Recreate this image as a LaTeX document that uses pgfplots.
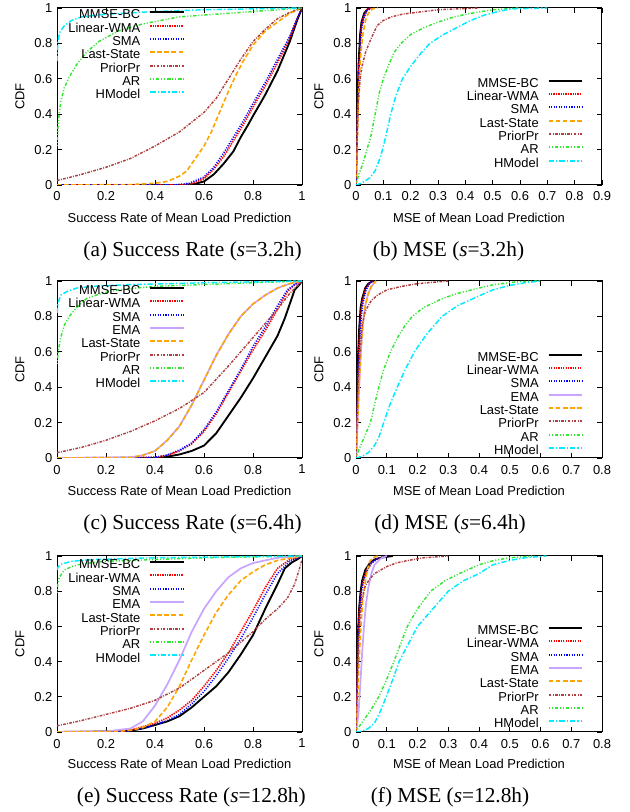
\documentclass[border=0pt]{standalone}
\usepackage{fontspec}
\setmainfont{Liberation Sans}
\newfontfamily\capfont{Liberation Serif}
\usepackage{pgfplots}
\pgfplotsset{compat=1.18}
\definecolor{cLWMA}{RGB}{255,0,0}
\definecolor{cSMA}{RGB}{0,0,255}
\definecolor{cEMA}{RGB}{200,165,255}
\definecolor{cLast}{RGB}{255,165,0}
\definecolor{cPrior}{RGB}{176,64,64}
\definecolor{cAR}{RGB}{50,230,50}
\definecolor{cHM}{RGB}{0,235,255}
\tikzset{
  sMMSE/.style={black, line width=1.4pt, solid},
  sLWMA/.style={cLWMA, line width=1.2pt, dash pattern=on 1pt off 0.8pt},
  sSMA/.style={cSMA, line width=1.2pt, dash pattern=on 0.8pt off 1.1pt},
  sEMA/.style={cEMA, line width=1.3pt, solid},
  sLast/.style={cLast, line width=1.2pt, dash pattern=on 3.5pt off 1.8pt},
  sPrior/.style={cPrior, line width=1.1pt, dash pattern=on 2pt off 1pt on 0.7pt off 1pt},
  sAR/.style={cAR, line width=1.1pt, dash pattern=on 0.8pt off 1.4pt on 0.8pt off 1.4pt on 2.5pt off 1.4pt},
  sHM/.style={cHM, line width=1.1pt, dash pattern=on 4pt off 1.5pt on 1pt off 1.5pt},
}
\pgfplotsset{
  /pgf/number format/assume math mode=true,
  cdfaxis/.style={
    scale only axis, height=132.75pt,
    ymin=0, ymax=1, ytick={0,0.2,0.4,0.6,0.8,1},
    tick align=inside, major tick length=4pt,
    axis line style={line width=0.75pt},
    every tick/.style={black, line width=0.6pt},
    ylabel={CDF},
    ylabel style={at={(axis description cs:-0.151,0.5)}, anchor=center},
    xlabel style={at={(axis description cs:0.5,-0.183)}, anchor=center},
    xticklabel style={yshift=-1.8pt},
    legend plot pos=right,
    legend cell align=right,
    legend image code/.code={\draw[##1, line width=1.5pt] (0pt,2.7pt) -- (25pt,2.7pt);},
    legend style={draw=none, fill=none, inner sep=0pt, column sep=6.75pt, row sep=0pt,
      nodes={inner sep=0pt, text height=7.2pt, text depth=2.8pt}},
  },
  sraxis/.style={cdfaxis, width=183.75pt, xmin=0, xmax=1, xtick={0,0.2,0.4,0.6,0.8,1},
    xlabel={Success Rate of Mean Load Prediction}},
  mseaxis/.style={cdfaxis, width=184.5pt, xmin=0, xmax=#1,
    xlabel={MSE of Mean Load Prediction}},
}
\begin{document}
\fontsize{9.7}{11}\selectfont
\begin{tikzpicture}
\path[use as bounding box] (0,0) rectangle (472.5pt,609pt);
% (a)
\begin{axis}[sraxis, at={(42.75pt,470.25pt)}, anchor=south west,
  legend style={at={(rel axis cs:0.522,0.995)}, anchor=north east}]
\addplot[sMMSE] coordinates {(0,0)(0.52,0)(0.56,0.005)(0.6,0.02)(0.64,0.06)(0.68,0.12)(0.72,0.19)(0.75,0.27)(0.78,0.34)(0.8,0.39)(0.85,0.51)(0.9,0.645)(0.95,0.81)(0.98,0.93)(1,1)};
\addlegendentry{MMSE-BC}
\addplot[sLWMA] coordinates {(0,0)(0.5,0)(0.55,0.008)(0.6,0.035)(0.64,0.09)(0.68,0.16)(0.72,0.25)(0.76,0.34)(0.8,0.44)(0.85,0.56)(0.9,0.69)(0.95,0.83)(0.98,0.94)(1,1)};
\addlegendentry{Linear-WMA}
\addplot[sSMA] coordinates {(0,0)(0.48,0)(0.54,0.01)(0.6,0.045)(0.64,0.1)(0.68,0.18)(0.72,0.27)(0.76,0.36)(0.8,0.46)(0.85,0.58)(0.9,0.71)(0.95,0.84)(0.98,0.94)(1,1)};
\addlegendentry{SMA}
\addplot[sLast] coordinates {(0,0)(0.3,0.002)(0.4,0.01)(0.45,0.02)(0.5,0.05)(0.53,0.08)(0.56,0.14)(0.6,0.22)(0.63,0.3)(0.66,0.4)(0.7,0.53)(0.73,0.62)(0.76,0.7)(0.8,0.79)(0.85,0.87)(0.9,0.92)(0.95,0.97)(1,1)};
\addlegendentry{Last-State}
\addplot[sPrior] coordinates {(0,0.025)(0.1,0.06)(0.2,0.1)(0.3,0.15)(0.4,0.22)(0.5,0.3)(0.6,0.41)(0.65,0.49)(0.7,0.6)(0.75,0.71)(0.8,0.81)(0.85,0.88)(0.9,0.94)(0.95,0.975)(1,1)};
\addlegendentry{PriorPr}
\addplot[sAR] coordinates {(0,0.22)(0.005,0.35)(0.015,0.47)(0.03,0.55)(0.05,0.61)(0.08,0.68)(0.12,0.75)(0.17,0.81)(0.25,0.87)(0.35,0.91)(0.5,0.95)(0.6,0.96)(0.75,0.975)(0.9,0.99)(1,1)};
\addlegendentry{AR}
\addplot[sHM] coordinates {(0,0.7)(0.003,0.8)(0.01,0.86)(0.03,0.9)(0.06,0.93)(0.1,0.95)(0.2,0.965)(0.4,0.98)(0.6,0.99)(1,1)};
\addlegendentry{HModel}
\end{axis}
% (b)
\begin{axis}[mseaxis=0.9, xtick={0,0.1,0.2,0.3,0.4,0.5,0.6,0.7,0.8,0.9}, at={(267pt,470.25pt)}, anchor=south west,
  legend style={at={(rel axis cs:0.924,0.608)}, anchor=north east}]
\addplot[sMMSE] coordinates {(0,0)(0.002,0.2)(0.005,0.45)(0.01,0.7)(0.015,0.85)(0.02,0.92)(0.03,0.97)(0.04,0.99)(0.05,1)};
\addlegendentry{MMSE-BC}
\addplot[sLWMA] coordinates {(0,0)(0.002,0.15)(0.005,0.4)(0.01,0.65)(0.015,0.8)(0.02,0.9)(0.03,0.96)(0.04,0.99)(0.055,1)};
\addlegendentry{Linear-WMA}
\addplot[sSMA] coordinates {(0,0)(0.002,0.15)(0.006,0.42)(0.01,0.62)(0.015,0.78)(0.02,0.88)(0.03,0.95)(0.04,0.985)(0.055,1)};
\addlegendentry{SMA}
\addplot[sLast] coordinates {(0,0)(0.003,0.15)(0.007,0.38)(0.012,0.6)(0.018,0.75)(0.025,0.85)(0.035,0.93)(0.045,0.97)(0.06,0.995)(0.08,1)};
\addlegendentry{Last-State}
\addplot[sPrior] coordinates {(0,0)(0.003,0.2)(0.008,0.45)(0.015,0.6)(0.022,0.67)(0.035,0.75)(0.053,0.82)(0.077,0.9)(0.1,0.93)(0.13,0.95)(0.17,0.965)(0.22,0.975)(0.3,0.99)(0.45,1)};
\addlegendentry{PriorPr}
\addplot[sAR] coordinates {(0,0)(0.01,0.06)(0.025,0.12)(0.04,0.2)(0.055,0.28)(0.07,0.4)(0.085,0.52)(0.1,0.6)(0.12,0.68)(0.14,0.75)(0.165,0.8)(0.2,0.85)(0.25,0.89)(0.3,0.92)(0.36,0.95)(0.42,0.97)(0.5,0.99)(0.6,1)};
\addlegendentry{AR}
\addplot[sHM] coordinates {(0,0)(0.02,0.01)(0.05,0.04)(0.07,0.08)(0.09,0.16)(0.11,0.28)(0.127,0.4)(0.145,0.5)(0.17,0.6)(0.2,0.67)(0.235,0.74)(0.27,0.8)(0.32,0.85)(0.37,0.89)(0.42,0.93)(0.47,0.96)(0.52,0.98)(0.57,0.995)(0.7,1)};
\addlegendentry{HModel}
\end{axis}
% (c)
\begin{axis}[sraxis, at={(42.75pt,265.5pt)}, anchor=south west,
  legend style={at={(rel axis cs:0.522,0.98)}, anchor=north east}]
\addplot[sMMSE] coordinates {(0,0)(0.42,0)(0.46,0.01)(0.5,0.02)(0.55,0.04)(0.6,0.07)(0.65,0.14)(0.7,0.24)(0.75,0.34)(0.8,0.45)(0.85,0.57)(0.9,0.69)(0.93,0.79)(0.95,0.87)(0.97,0.95)(0.99,0.98)(1,1)};
\addlegendentry{MMSE-BC}
\addplot[sLWMA] coordinates {(0,0)(0.4,0.003)(0.45,0.015)(0.5,0.04)(0.55,0.08)(0.6,0.15)(0.65,0.25)(0.7,0.37)(0.75,0.49)(0.8,0.61)(0.85,0.72)(0.9,0.84)(0.94,0.94)(0.97,0.98)(1,1)};
\addlegendentry{Linear-WMA}
\addplot[sSMA] coordinates {(0,0)(0.4,0.004)(0.45,0.017)(0.5,0.045)(0.55,0.085)(0.6,0.16)(0.65,0.26)(0.7,0.38)(0.75,0.5)(0.8,0.63)(0.85,0.74)(0.9,0.86)(0.94,0.95)(0.97,0.98)(1,1)};
\addlegendentry{SMA}
\addplot[sEMA] coordinates {(0,0)(0.3,0.003)(0.35,0.015)(0.4,0.04)(0.45,0.1)(0.5,0.18)(0.55,0.3)(0.6,0.44)(0.65,0.58)(0.7,0.7)(0.75,0.8)(0.8,0.87)(0.85,0.92)(0.9,0.96)(0.95,0.985)(1,1)};
\addlegendentry{EMA}
\addplot[sLast] coordinates {(0,0)(0.3,0.003)(0.35,0.015)(0.4,0.04)(0.45,0.1)(0.5,0.18)(0.55,0.3)(0.6,0.44)(0.65,0.58)(0.7,0.7)(0.75,0.8)(0.8,0.87)(0.85,0.92)(0.9,0.96)(0.95,0.985)(1,1)};
\addlegendentry{Last-State}
\addplot[sPrior] coordinates {(0,0.03)(0.1,0.06)(0.2,0.1)(0.3,0.15)(0.4,0.21)(0.5,0.28)(0.6,0.37)(0.7,0.52)(0.8,0.68)(0.9,0.84)(0.95,0.93)(1,1)};
\addlegendentry{PriorPr}
\addplot[sAR] coordinates {(0,0.53)(0.005,0.6)(0.015,0.68)(0.03,0.75)(0.05,0.8)(0.08,0.85)(0.12,0.9)(0.18,0.93)(0.25,0.95)(0.4,0.97)(0.6,0.98)(0.8,0.99)(1,1)};
\addlegendentry{AR}
\addplot[sHM] coordinates {(0,0.82)(0.005,0.88)(0.015,0.92)(0.04,0.94)(0.08,0.96)(0.15,0.97)(0.3,0.98)(0.6,0.99)(1,1)};
\addlegendentry{HModel}
\end{axis}
% (d)
\begin{axis}[mseaxis=0.8, xtick={0,0.1,0.2,0.3,0.4,0.5,0.6,0.7,0.8}, at={(267pt,265.5pt)}, anchor=south west,
  legend style={at={(rel axis cs:0.924,0.603)}, anchor=north east}]
\addplot[sMMSE] coordinates {(0,0)(0.002,0.25)(0.005,0.5)(0.01,0.72)(0.015,0.85)(0.02,0.9)(0.03,0.96)(0.04,0.985)(0.055,1)};
\addlegendentry{MMSE-BC}
\addplot[sLWMA] coordinates {(0,0)(0.003,0.2)(0.006,0.45)(0.01,0.65)(0.015,0.8)(0.02,0.88)(0.03,0.95)(0.045,0.99)(0.06,1)};
\addlegendentry{Linear-WMA}
\addplot[sSMA] coordinates {(0,0)(0.003,0.2)(0.007,0.45)(0.012,0.65)(0.017,0.8)(0.023,0.88)(0.033,0.95)(0.045,0.99)(0.06,1)};
\addlegendentry{SMA}
\addplot[sEMA] coordinates {(0,0)(0.004,0.15)(0.01,0.4)(0.016,0.6)(0.022,0.75)(0.03,0.86)(0.04,0.93)(0.05,0.97)(0.065,1)};
\addlegendentry{EMA}
\addplot[sLast] coordinates {(0,0)(0.004,0.15)(0.01,0.4)(0.016,0.6)(0.022,0.75)(0.03,0.86)(0.04,0.93)(0.05,0.97)(0.065,1)};
\addlegendentry{Last-State}
\addplot[sPrior] coordinates {(0,0)(0.003,0.2)(0.008,0.45)(0.013,0.6)(0.02,0.75)(0.03,0.83)(0.05,0.89)(0.07,0.92)(0.1,0.95)(0.15,0.97)(0.2,0.985)(0.3,1)};
\addlegendentry{PriorPr}
\addplot[sAR] coordinates {(0,0)(0.01,0.05)(0.025,0.11)(0.047,0.2)(0.06,0.3)(0.074,0.4)(0.09,0.5)(0.112,0.6)(0.135,0.68)(0.16,0.75)(0.183,0.8)(0.22,0.85)(0.28,0.9)(0.33,0.93)(0.4,0.96)(0.45,0.98)(0.52,0.995)(0.6,1)};
\addlegendentry{AR}
\addplot[sHM] coordinates {(0,0)(0.02,0.01)(0.04,0.03)(0.06,0.07)(0.075,0.12)(0.09,0.2)(0.11,0.3)(0.134,0.4)(0.16,0.5)(0.19,0.6)(0.23,0.7)(0.28,0.8)(0.33,0.86)(0.38,0.9)(0.445,0.95)(0.5,0.975)(0.55,0.99)(0.6,1)};
\addlegendentry{HModel}
\end{axis}
% (e)
\begin{axis}[sraxis, at={(42.75pt,60pt)}, anchor=south west, height=132pt,
  legend style={at={(rel axis cs:0.522,0.984)}, anchor=north east}]
\addplot[sMMSE] coordinates {(0,0)(0.25,0.003)(0.3,0.008)(0.35,0.02)(0.4,0.04)(0.45,0.06)(0.5,0.09)(0.55,0.14)(0.6,0.2)(0.65,0.26)(0.7,0.34)(0.75,0.44)(0.8,0.55)(0.85,0.7)(0.9,0.84)(0.93,0.93)(0.96,0.965)(0.98,0.98)(1,1)};
\addlegendentry{MMSE-BC}
\addplot[sLWMA] coordinates {(0,0)(0.25,0.003)(0.3,0.01)(0.35,0.03)(0.4,0.05)(0.45,0.08)(0.5,0.125)(0.55,0.18)(0.6,0.26)(0.65,0.35)(0.7,0.45)(0.75,0.57)(0.8,0.69)(0.85,0.82)(0.9,0.93)(0.95,0.98)(1,1)};
\addlegendentry{Linear-WMA}
\addplot[sSMA] coordinates {(0,0)(0.25,0.003)(0.3,0.008)(0.35,0.02)(0.4,0.04)(0.45,0.065)(0.5,0.1)(0.55,0.16)(0.6,0.23)(0.65,0.32)(0.7,0.42)(0.75,0.53)(0.8,0.65)(0.85,0.78)(0.9,0.9)(0.95,0.97)(1,1)};
\addlegendentry{SMA}
\addplot[sEMA] coordinates {(0,0)(0.2,0.003)(0.3,0.02)(0.35,0.06)(0.4,0.15)(0.45,0.27)(0.5,0.41)(0.55,0.57)(0.6,0.7)(0.65,0.8)(0.7,0.88)(0.75,0.93)(0.8,0.96)(0.9,0.99)(1,1)};
\addlegendentry{EMA}
\addplot[sLast] coordinates {(0,0)(0.25,0.003)(0.3,0.01)(0.35,0.025)(0.4,0.06)(0.45,0.14)(0.5,0.26)(0.55,0.41)(0.6,0.55)(0.65,0.68)(0.7,0.78)(0.75,0.86)(0.8,0.91)(0.85,0.95)(0.9,0.975)(1,1)};
\addlegendentry{Last-State}
\addplot[sPrior] coordinates {(0,0.035)(0.1,0.065)(0.2,0.1)(0.3,0.135)(0.4,0.18)(0.5,0.25)(0.6,0.35)(0.7,0.45)(0.8,0.57)(0.85,0.64)(0.9,0.7)(0.94,0.76)(0.97,0.84)(0.99,0.93)(1,0.98)};
\addlegendentry{PriorPr}
\addplot[sAR] coordinates {(0,0.79)(0.003,0.84)(0.01,0.88)(0.03,0.92)(0.06,0.94)(0.1,0.955)(0.2,0.97)(0.4,0.98)(0.6,0.99)(1,1)};
\addlegendentry{AR}
\addplot[sHM] coordinates {(0,0.92)(0.005,0.94)(0.02,0.955)(0.06,0.97)(0.15,0.98)(0.4,0.99)(0.7,0.995)(1,1)};
\addlegendentry{HModel}
\end{axis}
% (f)
\begin{axis}[mseaxis=0.8, xtick={0,0.1,0.2,0.3,0.4,0.5,0.6,0.7,0.8}, at={(267pt,60pt)}, anchor=south west, height=132pt,
  legend style={at={(rel axis cs:0.924,0.61)}, anchor=north east}]
\addplot[sMMSE] coordinates {(0,0)(0.002,0.25)(0.005,0.5)(0.01,0.7)(0.015,0.8)(0.02,0.86)(0.03,0.92)(0.045,0.96)(0.06,0.98)(0.08,0.99)(0.12,1)};
\addlegendentry{MMSE-BC}
\addplot[sLWMA] coordinates {(0,0)(0.003,0.25)(0.006,0.5)(0.011,0.7)(0.017,0.8)(0.025,0.87)(0.035,0.92)(0.05,0.96)(0.07,0.985)(0.1,1)};
\addlegendentry{Linear-WMA}
\addplot[sSMA] coordinates {(0,0)(0.003,0.22)(0.007,0.48)(0.012,0.68)(0.018,0.8)(0.026,0.87)(0.037,0.92)(0.05,0.96)(0.07,0.985)(0.1,1)};
\addlegendentry{SMA}
\addplot[sEMA] coordinates {(0,0)(0.008,0.1)(0.015,0.3)(0.02,0.45)(0.026,0.6)(0.032,0.72)(0.04,0.82)(0.05,0.9)(0.06,0.95)(0.08,0.985)(0.1,1)};
\addlegendentry{EMA}
\addplot[sLast] coordinates {(0,0)(0.004,0.15)(0.01,0.4)(0.016,0.6)(0.022,0.75)(0.03,0.85)(0.038,0.93)(0.045,0.97)(0.055,0.99)(0.07,1)};
\addlegendentry{Last-State}
\addplot[sPrior] coordinates {(0,0)(0.003,0.2)(0.008,0.5)(0.013,0.65)(0.02,0.76)(0.03,0.83)(0.045,0.87)(0.06,0.9)(0.08,0.92)(0.1,0.94)(0.13,0.96)(0.17,0.975)(0.22,0.99)(0.3,1)};
\addlegendentry{PriorPr}
\addplot[sAR] coordinates {(0,0)(0.01,0.03)(0.03,0.08)(0.05,0.13)(0.074,0.2)(0.1,0.3)(0.123,0.4)(0.145,0.5)(0.167,0.6)(0.2,0.7)(0.243,0.8)(0.29,0.86)(0.336,0.9)(0.4,0.95)(0.45,0.975)(0.5,0.99)(0.58,1)};
\addlegendentry{AR}
\addplot[sHM] coordinates {(0,0)(0.02,0.005)(0.04,0.02)(0.06,0.05)(0.08,0.12)(0.098,0.2)(0.12,0.3)(0.14,0.4)(0.17,0.5)(0.2,0.6)(0.25,0.7)(0.3,0.8)(0.35,0.86)(0.4,0.9)(0.445,0.95)(0.5,0.975)(0.55,0.99)(0.62,1)};
\addlegendentry{HModel}
\end{axis}
\begin{scope}[every node/.style={font=\capfont\fontsize{16}{18}\selectfont, inner sep=0pt}]
\node at (144.4pt,420.75pt) {(a) Success Rate (\textit{s}=3.2h)};
\node at (336.4pt,420.75pt) {(b) MSE (\textit{s}=3.2h)};
\node at (144.4pt,216pt) {(c) Success Rate (\textit{s}=6.4h)};
\node at (337.5pt,216pt) {(d) MSE (\textit{s}=6.4h)};
\node at (143.5pt,11.25pt) {(e) Success Rate (\textit{s}=12.8h)};
\node at (337.5pt,11.25pt) {(f) MSE (\textit{s}=12.8h)};
\end{scope}
\end{tikzpicture}
\end{document}
